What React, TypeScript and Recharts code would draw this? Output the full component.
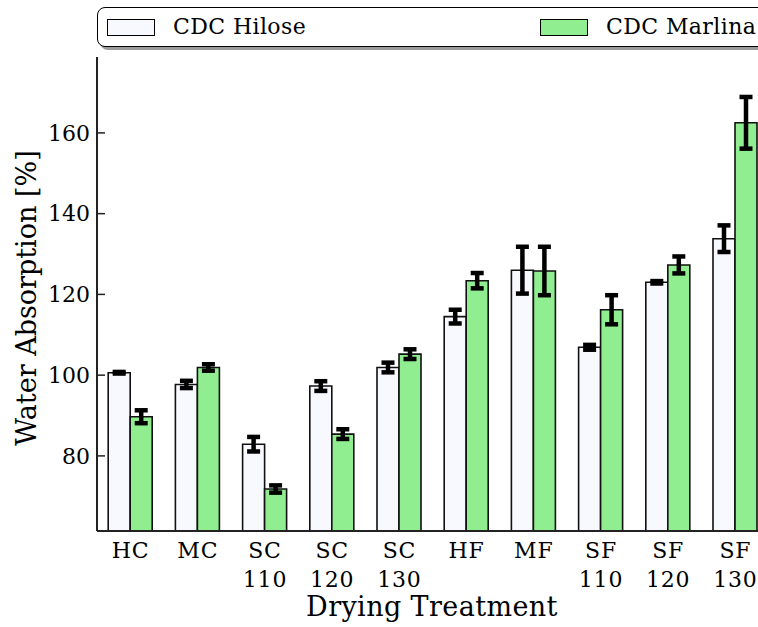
import React from "react";
import { BarChart, Bar, XAxis, YAxis, ErrorBar } from "recharts";

// Water absorption by drying treatment, two canola cultivars
const treatments = ["HC", "MC", "SC", "SC", "SC", "HF", "MF", "SF", "SF", "SF"];
const temps = ["", "", "110", "120", "130", "", "", "110", "120", "130"];
const hilose = [100.6, 97.7, 82.9, 97.3, 101.9, 114.5, 126.0, 106.9, 123.0, 133.8];
const hiloseErr = [0.2, 0.9, 1.8, 1.2, 1.2, 1.7, 5.8, 0.6, 0.3, 3.3];
const marlina = [89.7, 101.9, 71.8, 85.4, 105.2, 123.4, 125.8, 116.2, 127.3, 162.5];
const marlinaErr = [1.6, 0.8, 0.9, 1.2, 1.2, 1.9, 6.0, 3.6, 2.1, 6.4];
const yTicks = [80, 100, 120, 140, 160];

const data = treatments.map((t, i) => ({
  key: `${t}${temps[i]}`,
  name: t,
  temp: temps[i],
  hilose: hilose[i],
  hiloseErr: hiloseErr[i],
  marlina: marlina[i],
  marlinaErr: marlinaErr[i],
}));

const FONT = "'DejaVu Serif', serif";
const AXIS = "#222";

const TreatmentTick = (props: any) => {
  const { x, payload, index } = props;
  const row = data[index] || data.find((d) => d.key === payload.value);
  return (
    <text x={x} y={531} textAnchor="middle" fontFamily={FONT} fontSize={22} letterSpacing={0.8} fill="#000">
      <tspan x={x} dy={27}>{row ? row.name : ""}</tspan>
      {row && row.temp ? <tspan x={x} dy={29}>{row.temp}</tspan> : null}
    </text>
  );
};

export default function App() {
  return (
    <div style={{ position: "absolute", left: 0, top: 0, width: 758, height: 627, overflow: "hidden", background: "#fff" }}>
      <BarChart
        width={770}
        height={627}
        data={data}
        margin={{ top: 57, right: 1, bottom: 0, left: 0 }}
        barCategoryGap="16.67%"
        barGap={0}
      >
        <XAxis
          xAxisId="top"
          orientation="top"
          dataKey="key"
          height={0}
          tick={false}
          tickSize={-7}
          axisLine={{ stroke: AXIS, strokeWidth: 2 }}
          tickLine={{ stroke: AXIS, strokeWidth: 1.5 }}
        />
        <XAxis
          dataKey="key"
          height={96}
          interval={0}
          tickLine={false}
          tickSize={0}
          tickMargin={0}
          axisLine={{ stroke: AXIS, strokeWidth: 2 }}
          tick={<TreatmentTick />}
          label={() => (
            <text x={432} y={616} textAnchor="middle" fontFamily={FONT} fontSize={27} letterSpacing={0.4} fill="#000">
              Drying Treatment
            </text>
          )}
        />
        <YAxis
          width={97}
          domain={[61.4, 178.8]}
          ticks={yTicks}
          allowDataOverflow
          tickSize={-8}
          tickMargin={15}
          axisLine={{ stroke: AXIS, strokeWidth: 2 }}
          tickLine={{ stroke: AXIS, strokeWidth: 1.5 }}
          tick={{ fontFamily: FONT, fontSize: 22, fill: "#000" }}
          label={() => (
            <text x={36} y={298} transform="rotate(-90 36 298)" textAnchor="middle" fontFamily={FONT} fontSize={27} fill="#000">
              Water Absorption [%]
            </text>
          )}
        />
        <Bar dataKey="hilose" fill="#f8f8ff" stroke="#111" strokeWidth={1.6} isAnimationActive={false}>
          <ErrorBar dataKey="hiloseErr" width={6.5} stroke="#000" strokeWidth={4.5} />
        </Bar>
        <Bar dataKey="marlina" fill="#90ee90" stroke="#111" strokeWidth={1.6} isAnimationActive={false}>
          <ErrorBar dataKey="marlinaErr" width={6.5} stroke="#000" strokeWidth={4.5} />
        </Bar>
      </BarChart>
      <div
        style={{
          position: "absolute",
          left: 97,
          top: 7,
          width: 690,
          height: 38,
          border: "1.5px solid #000",
          borderRadius: 8,
          boxShadow: "3px 3px 0 #9a9a9a",
          background: "#fff",
          fontFamily: FONT,
          fontSize: 22,
        }}
      >
        <div style={{ position: "absolute", left: 9, top: 11, width: 46, height: 15, background: "#f8f8ff", border: "1px solid #000" }} />
        <div style={{ position: "absolute", left: 75, top: 6, whiteSpace: "nowrap", letterSpacing: 0.4 }}>CDC Hilose</div>
        <div style={{ position: "absolute", left: 442, top: 11, width: 46, height: 15, background: "#90ee90", border: "1px solid #000" }} />
        <div style={{ position: "absolute", left: 508, top: 6, whiteSpace: "nowrap", letterSpacing: 0.4 }}>CDC Marlina</div>
      </div>
    </div>
  );
}
